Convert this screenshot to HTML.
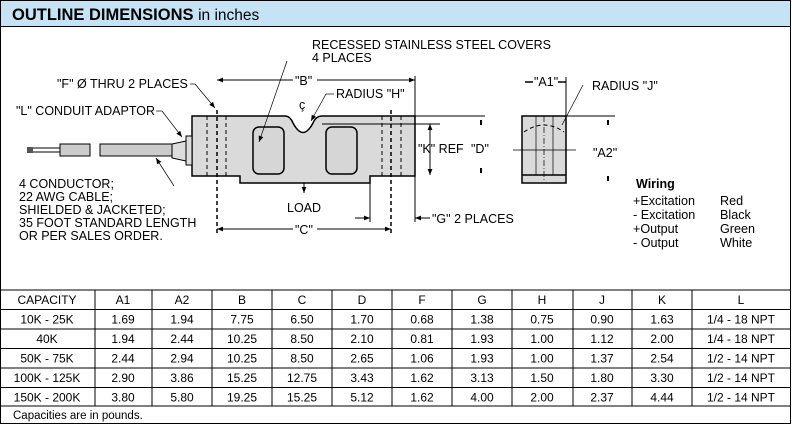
<!DOCTYPE html>
<html><head><meta charset="utf-8"><style>
html,body{margin:0;padding:0;background:#fff;}
svg{display:block;font-family:"Liberation Sans",Arial,sans-serif;}
</style></head><body>
<svg width="792" height="425" viewBox="0 0 792 425" xmlns="http://www.w3.org/2000/svg">
<defs>
<marker id="ar" viewBox="0 0 10 10" refX="10" refY="5" markerWidth="9" markerHeight="6" markerUnits="userSpaceOnUse" orient="auto-start-reverse"><path d="M0,1 L10,5 L0,9 z" fill="#000"/></marker>
</defs>
<rect x="0.5" y="0.5" width="790" height="423" fill="#fff" stroke="#000"/>
<rect x="0.5" y="0.5" width="790" height="26" fill="#c6e3f5" stroke="#000"/>
<text x="12" y="20" font-size="16.5" font-weight="bold">OUTLINE DIMENSIONS <tspan font-weight="normal" font-size="15.5">in inches</tspan></text>

<g font-size="12.5" fill="#000">
<path d="M192,116 H285 Q290,116 293,123 Q303,142 313,123 Q316,116 322,116 H415 V176 H370 V183 H240 V176 H192 Z" fill="#dadada" stroke="#000" stroke-width="1.5"/>
<rect x="253" y="127" width="31" height="47" rx="6" fill="#d6d6d6" stroke="#000" stroke-width="1.5"/>
<rect x="326" y="127" width="31" height="47" rx="6" fill="#d6d6d6" stroke="#000" stroke-width="1.5"/>
<g stroke="#000" stroke-dasharray="4,3" stroke-width="1">
<line x1="207" y1="116" x2="207" y2="176"/><line x1="226" y1="116" x2="226" y2="176"/>
<line x1="382" y1="116" x2="382" y2="176"/><line x1="401" y1="116" x2="401" y2="176"/>
<line x1="217" y1="110" x2="217" y2="236" stroke-width="1.5"/>
<line x1="391" y1="110" x2="391" y2="236" stroke-width="1.5"/>
</g>
<rect x="186" y="136" width="6" height="29" fill="#ddd" stroke="#000"/>
<path d="M186,141 L172,144 V158 L186,161 Z" fill="#ddd" stroke="#000"/>
<rect x="100" y="144" width="72" height="12" fill="#ccc" stroke="#000"/>
<rect x="60" y="144" width="30" height="12" fill="#ccc" stroke="#000"/>
<rect x="27" y="147" width="6" height="6" fill="#555"/>
<line x1="33" y1="148" x2="60" y2="148" stroke="#000"/><line x1="33" y1="152" x2="60" y2="152" stroke="#000"/>
<line x1="217" y1="80" x2="415" y2="80" stroke="#000" marker-start="url(#ar)" marker-end="url(#ar)"/>
<line x1="415" y1="76" x2="415" y2="116" stroke="#000"/>
<rect x="293" y="73" width="24" height="13" fill="#fff"/>
<text x="295" y="85">"B"</text>
<line x1="217" y1="229" x2="391" y2="229" stroke="#000" marker-start="url(#ar)" marker-end="url(#ar)"/>
<rect x="293" y="222" width="24" height="13" fill="#fff"/>
<text x="295" y="234">"C"</text>
<line x1="370" y1="183" x2="370" y2="222" stroke="#000"/>
<line x1="355" y1="218" x2="370" y2="218" stroke="#000" marker-end="url(#ar)"/>
<line x1="415" y1="176" x2="415" y2="222" stroke="#000"/>
<line x1="430" y1="218" x2="415" y2="218" stroke="#000" marker-end="url(#ar)"/>
<text x="432" y="223">"G" 2 PLACES</text>
<line x1="322" y1="116" x2="485" y2="116" stroke="#000"/>
<line x1="322" y1="124" x2="440" y2="124" stroke="#000"/>
<line x1="430" y1="124" x2="430" y2="175" stroke="#000" marker-start="url(#ar)" marker-end="url(#ar)"/>
<text x="418" y="153">"K" REF</text>
<text x="471" y="153">"D"</text>
<line x1="481" y1="120" x2="481" y2="125" stroke="#000" stroke-width="2"/>
<line x1="481" y1="168" x2="481" y2="173" stroke="#000" stroke-width="2"/>
<line x1="304" y1="183" x2="304" y2="193" stroke="#000" marker-end="url(#ar)"/>
<text x="287" y="212">LOAD</text>
<text x="299" y="109">ç</text>
<text x="312" y="49">RECESSED STAINLESS STEEL COVERS</text>
<text x="312" y="62">4 PLACES</text>
<line x1="287" y1="61" x2="259" y2="142" stroke="#000" stroke-width="0.7" marker-end="url(#ar)"/>
<text x="336" y="98">RADIUS "H"</text>
<line x1="334" y1="94" x2="326" y2="94" stroke="#000" stroke-width="0.7"/>
<line x1="326" y1="94" x2="311" y2="121" stroke="#000" stroke-width="0.7" marker-end="url(#ar)"/>
<text x="57" y="88">"F" Ø THRU 2 PLACES</text>
<line x1="190" y1="84" x2="195" y2="84" stroke="#000" stroke-width="0.7"/>
<line x1="195" y1="84" x2="215" y2="108" stroke="#000" stroke-width="0.7" marker-end="url(#ar)"/>
<text x="16" y="115">"L" CONDUIT ADAPTOR</text>
<line x1="156" y1="111" x2="162" y2="111" stroke="#000" stroke-width="0.7"/>
<line x1="162" y1="111" x2="182" y2="137" stroke="#000" stroke-width="0.7" marker-end="url(#ar)"/>
<line x1="174" y1="186" x2="156" y2="158" stroke="#000" stroke-width="0.7" marker-end="url(#ar)"/>
<text x="19" y="188">4 CONDUCTOR;</text>
<text x="19" y="201">22 AWG  CABLE;</text>
<text x="19" y="214">SHIELDED &amp; JACKETED;</text>
<text x="19" y="227">35 FOOT STANDARD LENGTH</text>
<text x="19" y="240">OR PER SALES ORDER.</text>
<rect x="522" y="116" width="44" height="67" fill="#dadada" stroke="#000" stroke-width="1.5"/>
<line x1="522" y1="175" x2="566" y2="175" stroke="#000" stroke-width="1.5"/>
<g stroke="#000" stroke-width="0.7"><line x1="536" y1="116" x2="536" y2="175"/><line x1="553" y1="116" x2="553" y2="175"/>
<line x1="513" y1="150" x2="576" y2="150"/><line x1="544" y1="116" x2="544" y2="180" stroke-dasharray="6,2,1,2"/></g>
<path d="M524,132 Q544,118 564,132" fill="none" stroke="#000" stroke-dasharray="4,3"/>
<line x1="566" y1="116" x2="615" y2="116" stroke="#000"/>
<line x1="566" y1="77" x2="566" y2="116" stroke="#000"/>
<line x1="525" y1="82" x2="533" y2="82" stroke="#000" stroke-width="1.5"/>
<line x1="558" y1="82" x2="566" y2="82" stroke="#000" stroke-width="1.5"/>
<text x="534" y="86">"A1"</text>
<text x="592" y="90">RADIUS "J"</text>
<line x1="583" y1="85" x2="562" y2="125" stroke="#000" stroke-width="0.7"/>
<text x="593" y="157">"A2"</text>
<line x1="608" y1="120" x2="608" y2="125" stroke="#000" stroke-width="2"/>
<line x1="608" y1="176" x2="608" y2="181" stroke="#000" stroke-width="2"/>
<text x="636" y="188" font-weight="bold" font-size="12.5">Wiring</text>
<g font-size="12.6">
<text x="633" y="205">+Excitation</text><text x="720" y="205">Red</text>
<text x="633" y="219">- Excitation</text><text x="720" y="219">Black</text>
<text x="633" y="233">+Output</text><text x="720" y="233">Green</text>
<text x="633" y="247">- Output</text><text x="720" y="247">White</text>
</g>
</g>

<g stroke="#000" stroke-width="1">
<line x1="0" y1="290" x2="791" y2="290"/>
<line x1="0" y1="309.5" x2="791" y2="309.5"/>
<line x1="0" y1="329" x2="791" y2="329"/>
<line x1="0" y1="348.5" x2="791" y2="348.5"/>
<line x1="0" y1="368" x2="791" y2="368"/>
<line x1="0" y1="387.5" x2="791" y2="387.5"/>
<line x1="0" y1="406" x2="791" y2="406"/>
<line x1="95" y1="290" x2="95" y2="406"/><line x1="152" y1="290" x2="152" y2="406"/>
<line x1="212" y1="290" x2="212" y2="406"/><line x1="272" y1="290" x2="272" y2="406"/>
<line x1="332" y1="290" x2="332" y2="406"/><line x1="392" y1="290" x2="392" y2="406"/>
<line x1="452" y1="290" x2="452" y2="406"/><line x1="512" y1="290" x2="512" y2="406"/>
<line x1="573" y1="290" x2="573" y2="406"/><line x1="632" y1="290" x2="632" y2="406"/>
<line x1="692" y1="290" x2="692" y2="406"/>
</g>
<g font-size="12" text-anchor="middle">
<text x="47" y="304">CAPACITY</text><text x="123" y="304">A1</text><text x="182" y="304">A2</text><text x="242" y="304">B</text><text x="302" y="304">C</text><text x="362" y="304">D</text><text x="422" y="304">F</text><text x="482" y="304">G</text><text x="542" y="304">H</text><text x="602" y="304">J</text><text x="662" y="304">K</text><text x="741" y="304">L</text>
<text x="47" y="323.5">10K - 25K</text><text x="123" y="323.5">1.69</text><text x="182" y="323.5">1.94</text><text x="242" y="323.5">7.75</text><text x="302" y="323.5">6.50</text><text x="362" y="323.5">1.70</text><text x="422" y="323.5">0.68</text><text x="482" y="323.5">1.38</text><text x="542" y="323.5">0.75</text><text x="602" y="323.5">0.90</text><text x="662" y="323.5">1.63</text><text x="741" y="323.5">1/4 - 18 NPT</text>
<text x="47" y="343">40K</text><text x="123" y="343">1.94</text><text x="182" y="343">2.44</text><text x="242" y="343">10.25</text><text x="302" y="343">8.50</text><text x="362" y="343">2.10</text><text x="422" y="343">0.81</text><text x="482" y="343">1.93</text><text x="542" y="343">1.00</text><text x="602" y="343">1.12</text><text x="662" y="343">2.00</text><text x="741" y="343">1/4 - 18 NPT</text>
<text x="47" y="362.5">50K - 75K</text><text x="123" y="362.5">2.44</text><text x="182" y="362.5">2.94</text><text x="242" y="362.5">10.25</text><text x="302" y="362.5">8.50</text><text x="362" y="362.5">2.65</text><text x="422" y="362.5">1.06</text><text x="482" y="362.5">1.93</text><text x="542" y="362.5">1.00</text><text x="602" y="362.5">1.37</text><text x="662" y="362.5">2.54</text><text x="741" y="362.5">1/2 - 14 NPT</text>
<text x="47" y="382">100K - 125K</text><text x="123" y="382">2.90</text><text x="182" y="382">3.86</text><text x="242" y="382">15.25</text><text x="302" y="382">12.75</text><text x="362" y="382">3.43</text><text x="422" y="382">1.62</text><text x="482" y="382">3.13</text><text x="542" y="382">1.50</text><text x="602" y="382">1.80</text><text x="662" y="382">3.30</text><text x="741" y="382">1/2 - 14 NPT</text>
<text x="47" y="401.5">150K - 200K</text><text x="123" y="401.5">3.80</text><text x="182" y="401.5">5.80</text><text x="242" y="401.5">19.25</text><text x="302" y="401.5">15.25</text><text x="362" y="401.5">5.12</text><text x="422" y="401.5">1.62</text><text x="482" y="401.5">4.00</text><text x="542" y="401.5">2.00</text><text x="602" y="401.5">2.37</text><text x="662" y="401.5">4.44</text><text x="741" y="401.5">1/2 - 14 NPT</text>
</g>
<text x="13" y="419" font-size="11.5">Capacities are in pounds.</text>
</svg>
</body></html>
